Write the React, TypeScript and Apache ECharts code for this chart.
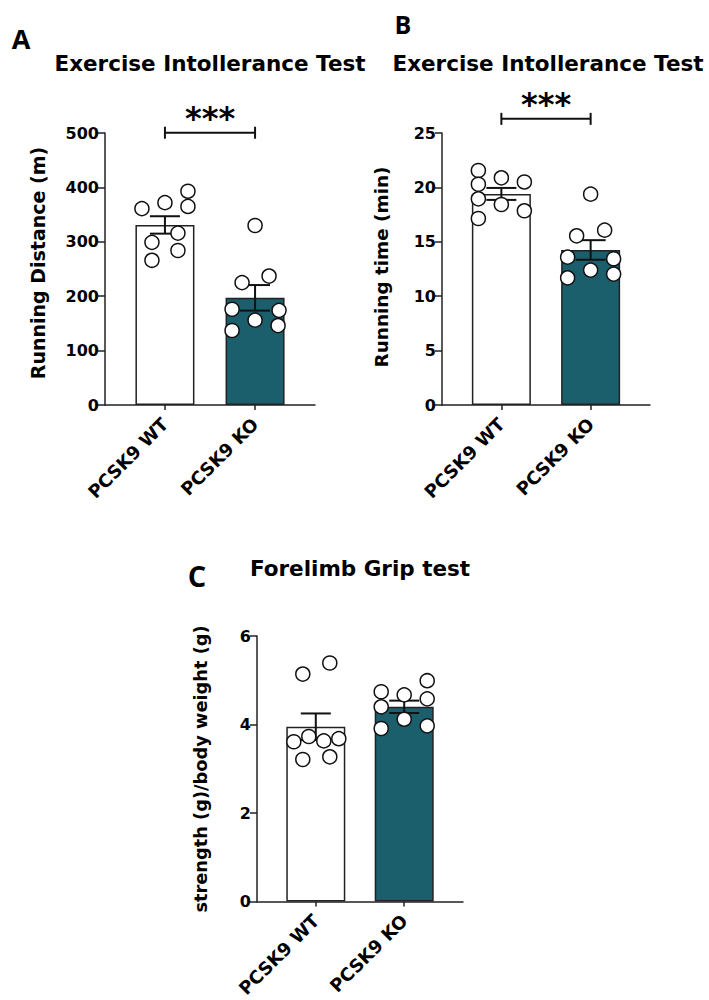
import React, { useEffect, useRef } from "react";
import * as echarts from "echarts";

// ---------- data ----------
const groups = ["PCSK9 WT", "PCSK9 KO"];

// Panel A: running distance (m)
const distanceMeans = [331, 197];
const distanceSem = [16, 23.5];
const distanceWT = [361, 372, 393, 365, 316, 299, 284, 266];
const distanceKO = [330, 225, 237, 176, 174, 156, 137, 146];

// Panel B: running time (min)
const timeMeans = [19.4, 14.25];
const timeSem = [0.55, 0.9];
const timeWT = [21.55, 20.29, 20.88, 20.5, 18.95, 18.43, 17.85, 17.14];
const timeKO = [19.38, 15.55, 16.07, 13.59, 13.44, 12.4, 11.69, 12.03];

// Panel C: grip strength / body weight
const gripMeans = [3.95, 4.4];
const gripSem = [0.3, 0.14];
const gripWT = [5.14, 5.39, 3.61, 3.73, 3.63, 3.68, 3.21, 3.27];
const gripKO = [4.74, 4.67, 4.99, 4.4, 4.58, 3.91, 4.12, 3.97];

// significance brackets: [from group, to group, level]
const bracketA = [0, 1, 500.5];
const bracketB = [0, 1, 26.3];
const sigLabel = "***";

// ---------- layout (pixel jitter of dots, not data) ----------
const jitterAWT = [-23, 0, 23, 23, 13, -13, 13, -13];
const jitterAKO = [0, -13, 14, -23, 24, 0, -23, 23];
const jitterBWT = [-23, -23, 0, 23, -23, 0, 23, -23];
const jitterBKO = [0, -14, 14, -23, 23, 0, -23, 23];
const jitterCWT = [-13, 14, -22, -7, 8, 23, -13, 14];
const jitterCKO = [-23, 0, 23, -23, 23, -23, 0, 23];

const FONT = "DejaVu Sans";
const INK = "#111";
const TEAL = "#1b5e6c";

function makeAxes(idx: number, max: number, interval: number) {
  const x = {
    type: "value",
    gridIndex: idx,
    min: -0.665,
    max: 1.665,
    splitLine: { show: false },
    axisLine: { show: true, onZero: false, lineStyle: { color: "#222", width: 1.5 } },
    axisTick: { show: true, customValues: [0, 1], length: 5, lineStyle: { color: "#222", width: 1.5 } },
    axisLabel: {
      customValues: [0, 1],
      formatter: (v: number) => groups[Math.round(v)],
      rotate: 45,
      margin: 16,
      fontFamily: FONT,
      fontWeight: "bold",
      fontSize: 18,
      color: "#000",
    },
  };
  const y = {
    type: "value",
    gridIndex: idx,
    min: 0,
    max,
    interval,
    splitLine: { show: false },
    axisLine: { show: true, onZero: false, lineStyle: { color: "#222", width: 1.5 } },
    axisTick: { show: true, length: 7, lineStyle: { color: "#222", width: 1.5 } },
    axisLabel: {
      margin: 6,
      fontFamily: FONT,
      fontWeight: "bold",
      fontSize: 16,
      color: "#000",
    },
  };
  return { x, y };
}

function panelSeries(
  idx: number,
  means: number[],
  sems: number[],
  wt: number[],
  ko: number[],
  jWT: number[],
  jKO: number[],
  bracket: number[] | null
) {
  const s: any[] = [
    {
      type: "bar",
      xAxisIndex: idx,
      yAxisIndex: idx,
      barWidth: 59,
      z: 2,
      data: means.map((m, k) => ({
        value: [k, m],
        itemStyle: { color: k === 0 ? "#ffffff" : TEAL, borderColor: "#222", borderWidth: 1.5 },
      })),
    },
    {
      type: "custom",
      xAxisIndex: idx,
      yAxisIndex: idx,
      z: 3,
      encode: { x: 0, y: 1 },
      data: means.map((m, k) => [k, m, sems[k]]),
      renderItem: (params: any, api: any) => {
        const x = api.value(0);
        const m = api.value(1);
        const e = api.value(2);
        const top = api.coord([x, m + e]);
        const bot = api.coord([x, m - e]);
        const half = 15;
        const st = { stroke: INK, lineWidth: 2 };
        return {
          type: "group",
          children: [
            { type: "line", shape: { x1: top[0], y1: top[1], x2: bot[0], y2: bot[1] }, style: st },
            { type: "line", shape: { x1: top[0] - half, y1: top[1], x2: top[0] + half, y2: top[1] }, style: st },
            { type: "line", shape: { x1: bot[0] - half, y1: bot[1], x2: bot[0] + half, y2: bot[1] }, style: st },
          ],
        };
      },
    },
    {
      type: "scatter",
      xAxisIndex: idx,
      yAxisIndex: idx,
      z: 4,
      symbol: "circle",
      symbolSize: 14,
      itemStyle: { color: "#fff", borderColor: INK, borderWidth: 1.5, opacity: 1 },
      data: [
        ...wt.map((v, j) => ({ value: [0, v], symbolOffset: [jWT[j], 0] })),
        ...ko.map((v, j) => ({ value: [1, v], symbolOffset: [jKO[j], 0] })),
      ],
    },
  ];
  if (bracket) {
    s.push({
      type: "custom",
      xAxisIndex: idx,
      yAxisIndex: idx,
      z: 5,
      clip: false,
      encode: { x: [0, 1], y: 2 },
      data: [bracket],
      renderItem: (params: any, api: any) => {
        const p0 = api.coord([api.value(0), api.value(2)]);
        const p1 = api.coord([api.value(1), api.value(2)]);
        const st = { stroke: INK, lineWidth: 2 };
        const h = 6;
        return {
          type: "group",
          children: [
            { type: "line", shape: { x1: p0[0], y1: p0[1], x2: p1[0], y2: p1[1] }, style: st },
            { type: "line", shape: { x1: p0[0], y1: p0[1] - h, x2: p0[0], y2: p0[1] + h }, style: st },
            { type: "line", shape: { x1: p1[0], y1: p1[1] - h, x2: p1[0], y2: p1[1] + h }, style: st },
            {
              type: "text",
              x: (p0[0] + p1[0]) / 2,
              y: p0[1] + 1,
              style: {
                text: sigLabel,
                fontFamily: FONT,
                fontWeight: "bold",
                fontSize: 32,
                fill: "#000",
                align: "center",
                verticalAlign: "bottom",
              },
            },
          ],
        };
      },
    });
  }
  return s;
}

function txt(x: number, y: number, text: string, size: number, family: string, rotation = 0) {
  return {
    type: "text",
    x,
    y,
    rotation,
    style: {
      text,
      fill: "#000",
      fontFamily: family,
      fontWeight: "bold",
      fontSize: size,
      align: "center",
      verticalAlign: "middle",
      textAlign: "center",
      textVerticalAlign: "middle",
    },
  };
}

export default function App() {
  const ref = useRef<HTMLDivElement>(null);
  useEffect(() => {
    document.body.style.margin = "0";
    if (!ref.current) return;
    const chart = echarts.init(ref.current, undefined, { renderer: "svg" });
    const a = makeAxes(0, 500, 100);
    const b = makeAxes(1, 25, 5);
    const c = makeAxes(2, 6, 2);
    chart.setOption({
      animation: false,
      backgroundColor: "#ffffff",
      grid: [
        { left: 105, top: 133, width: 210, height: 272 },
        { left: 442, top: 133, width: 208, height: 272 },
        { left: 257, top: 636, width: 206, height: 268 },
      ],
      xAxis: [a.x, b.x, c.x],
      yAxis: [a.y, b.y, c.y],
      series: [
        ...panelSeries(0, distanceMeans, distanceSem, distanceWT, distanceKO, jitterAWT, jitterAKO, bracketA),
        ...panelSeries(1, timeMeans, timeSem, timeWT, timeKO, jitterBWT, jitterBKO, bracketB),
        ...panelSeries(2, gripMeans, gripSem, gripWT, gripKO, jitterCWT, jitterCKO, null),
      ],
      graphic: [
        txt(21, 38, "A", 27, "Open Sans"),
        txt(403, 24, "B", 25, "Open Sans"),
        txt(197, 575, "C", 29, "Open Sans"),
        txt(210, 63, "Exercise Intollerance Test", 21.5, FONT),
        txt(548, 63, "Exercise Intollerance Test", 21.5, FONT),
        txt(360, 568, "Forelimb Grip test", 21.5, FONT),
        txt(38, 263, "Running Distance (m)", 19, FONT, Math.PI / 2),
        txt(381, 267, "Running time (min)", 18.4, FONT, Math.PI / 2),
        txt(200, 769, "strength (g)/body weight (g)", 17.8, FONT, Math.PI / 2),
      ],
    });
    return () => chart.dispose();
  }, []);
  return (
    <div
      ref={ref}
      style={{ position: "absolute", left: 0, top: 0, width: 709, height: 1000, background: "#fff" }}
    />
  );
}
